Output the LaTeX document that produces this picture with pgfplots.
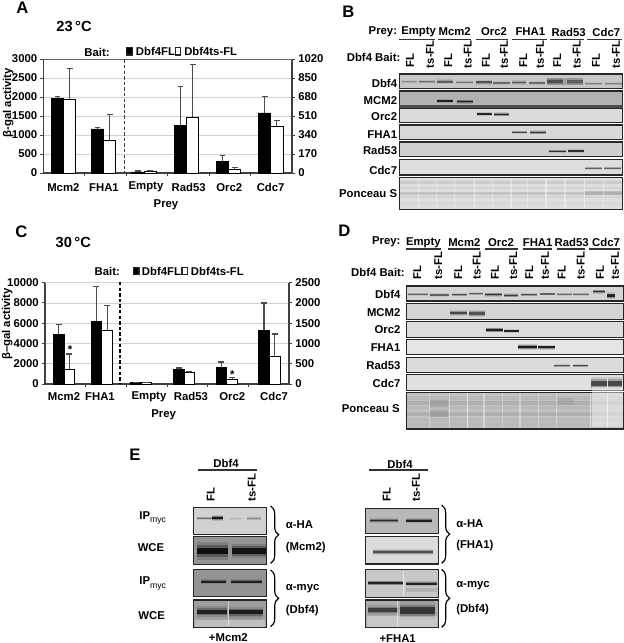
\documentclass[border=0pt]{standalone}
\usepackage{fontspec}
\setmainfont{Liberation Sans}
\usepackage{pgfplots}
\pgfplotsset{compat=1.18}
\usetikzlibrary{decorations.pathreplacing}

\newcommand\lbl{\fontsize{8.5pt}{10pt}\selectfont\bfseries}
\newcommand\plbl{\fontsize{12.5pt}{14pt}\selectfont\bfseries}
\newcommand\temp{\fontsize{11pt}{13pt}\selectfont\bfseries}
\newcommand\myc{\raisebox{-2.5pt}{\fontsize{6.5pt}{7pt}\selectfont\mdseries myc}}

% panel, band and lane helpers, all in the coordinates of the axis they sit in
\newcommand\panel[5]{\addplot[no markers, draw=black!85, line width=.9pt, fill=black!#5] coordinates {(#1,#2)(#3,#2)(#3,#4)(#1,#4)} --cycle;}
\newcommand\band[5]{%
  \addplot[no markers, black!#5, opacity=.14, line width=2.8*#4pt] coordinates {(#1,#3)(#2,#3)};
  \addplot[no markers, black!#5, opacity=.3, line width=1.8*#4pt] coordinates {(#1,#3)(#2,#3)};
  \addplot[no markers, black!#5, opacity=.9, line width=#4pt] coordinates {(#1,#3)(#2,#3)};}
\newcommand\smear[5]{\addplot[no markers, black!#5, opacity=.45, line width=#4pt] coordinates {(#1,#3)(#2,#3)};}
\newcommand\lane[4]{\addplot[no markers, white, opacity=#4, line width=1pt] coordinates {(#1,#2)(#1,#3)};}
\newcommand\uline[3]{\addplot[no markers, black!80, line width=.8pt] coordinates {(#1,#3)(#2,#3)};}
\newcommand\vlab[3]{\node[rotate=90, anchor=west] at (axis cs:#1,#2) {#3};}

\pgfplotsset{
  blot/.style={hide axis, scale only axis, clip=false, y dir=reverse, enlargelimits=false,
    anchor=south west, xmin=0, ymin=0},
  bars/.style={scale only axis, anchor=south west, ybar=0pt, clip=false,
    tick align=outside, major tick length=2.5pt,
    axis line style={line width=.8pt, black!75}, tick style={line width=.7pt, black!75},
    tick label style={font=\lbl, inner sep=2pt, /pgf/number format/assume math mode=true,
      /pgf/number format/1000 sep={}}},
  bk/.style={fill=black, draw=black, line width=.5pt,
    error bars/.cd, y dir=plus, y explicit,
    error bar style={line width=.8pt, black!70}, error mark options={rotate=90, mark size=2.2pt, line width=.8pt, black!70}},
  wh/.style={fill=white, draw=black, line width=.7pt,
    error bars/.cd, y dir=plus, y explicit,
    error bar style={line width=.8pt, black!70}, error mark options={rotate=90, mark size=2.2pt, line width=.8pt, black!70}},
}

\begin{document}
\begin{tikzpicture}[every node/.style={font=\lbl, inner sep=0pt}]
\path[use as bounding box] (0,0) rectangle (468pt,482.25pt);

% ---- A, bars
\begin{axis}[bars, at={(32.6pt,352.5pt)}, width=186.4pt, height=85.5pt, bar width=9.2pt,
    xmin=43.5, xmax=292, ymin=0, ymax=3000, axis y line*=left, axis x line*=bottom,
    ytick={0,500,1000,1500,2000,2500,3000}, xtick={84.9,126.3,167.7,209.1,250.5}, xticklabels={},
    ymajorgrids, grid style={black!18, line width=.6pt}]
\addplot[bk] table[x=x,y=y,y error=e] {
x y e
63.7 1962 61
103.7 1161 44
};
\addplot[wh] table[x=x,y=y,y error=e] {
x y e
63.7 1944 801
103.7 845 703
};
\end{axis}
\begin{axis}[bars, at={(32.6pt,352.5pt)}, width=186.4pt, height=85.5pt, bar width=9.2pt,
    xmin=43.5, xmax=292, ymin=0, ymax=1020, axis y line*=right, axis x line=none,
    ytick={0,170,340,510,680,850,1020}]
\addplot[bk] table[x=x,y=y,y error=e] {
x y e
144 9 9
186.7 428 347
228.7 102 57
270.7 538 147
};
\addplot[wh] table[x=x,y=y,y error=e] {
x y e
144 18 3
186.7 497 475
228.7 33 18
270.7 419 54
};
\end{axis}

% ---- C, bars
\begin{axis}[bars, at={(33.75pt,194.25pt)}, width=183pt, height=76pt, bar width=8pt,
    xmin=45, xmax=289, ymin=0, ymax=10000, axis y line*=left, axis x line*=bottom,
    ytick={0,2000,4000,6000,8000,10000}, scaled y ticks=false,
    xtick={85.7,126.3,167,207.7,248.3}, xticklabels={},
    ymajorgrids, grid style={black!18, line width=.6pt}]
\addplot[bk] table[x=x,y=y,y error=e] {
x y e
64 4870 985
101.7 6180 3420
};
\addplot[wh] table[x=x,y=y,y error=e] {
x y e
64 1480 1480
101.7 5330 2430
};
\end{axis}
\begin{axis}[bars, at={(33.75pt,194.25pt)}, width=183pt, height=76pt, bar width=8pt,
    xmin=45, xmax=289, ymin=0, ymax=2500, axis y line*=right, axis x line=none,
    ytick={0,500,1000,1500,2000,2500}]
\addplot[bk] table[x=x,y=y,y error=e] {
x y e
141 40 5
184 354 41
226.7 403 140
269.3 1332 666
};
\addplot[wh] table[x=x,y=y,y error=e] {
x y e
141 32 5
184 280 24
226.7 123 42
269.3 691 542
};
\end{axis}

% ---- A, text
\begin{axis}[blot, at={(0pt,317.25pt)}, width=232.5pt, height=165pt, xmax=930, ymax=660]
\addplot[no markers, black!60, line width=.9pt] coordinates {(130,178)(875,178)};
\addplot[no markers, black!75, line width=1.1pt, dash pattern=on 2.6pt off 1.6pt] coordinates {(374,178)(374,519)};
\panel{380}{143}{397}{165}{100}
\panel{526}{143}{542}{165}{0}
\node[font=\plbl] at (axis cs:67,22) {A};
\node[font=\temp] at (axis cs:222,78) {23\,°C};
\node at (axis cs:291,157) {Bait:};
\node[anchor=west] at (axis cs:407,154) {Dbf4FL};
\node[anchor=west] at (axis cs:552,154) {Dbf4ts-FL};
\node[rotate=90] at (axis cs:25,308) {β-gal activity};
\node at (axis cs:190,562) {Mcm2};
\node at (axis cs:312,562) {FHA1};
\node at (axis cs:438,559) {Empty};
\node at (axis cs:566,562) {Rad53};
\node at (axis cs:688,562) {Orc2};
\node at (axis cs:812,562) {Cdc7};
\node at (axis cs:498,614) {Prey};
\end{axis}

% ---- C, text
\begin{axis}[blot, at={(0pt,167.25pt)}, width=232.5pt, height=150pt, xmax=930, ymax=600]
\addplot[no markers, black, line width=.9pt, dash pattern=on 2.6pt off 1.6pt] coordinates {(360,186)(360,490)};
\panel{400}{143}{417}{163}{100}
\panel{546}{143}{563}{163}{0}
\node[font=\plbl] at (axis cs:64,36) {C};
\node[font=\temp] at (axis cs:220,66) {30\,°C};
\node at (axis cs:322,153) {Bait:};
\node[anchor=west] at (axis cs:425,153) {Dbf4FL};
\node[anchor=west] at (axis cs:572,153) {Dbf4ts-FL};
\node[rotate=90] at (axis cs:22,312) {β–gal activity};
\node at (axis cs:192,530) {Mcm2};
\node at (axis cs:300,530) {FHA1};
\node at (axis cs:447,530) {Empty};
\node at (axis cs:573,530) {Rad53};
\node at (axis cs:697,530) {Orc2};
\node at (axis cs:822,530) {Cdc7};
\node at (axis cs:491,584) {Prey};
\node at (axis cs:210,388) {*};
\node at (axis cs:697,464) {*};
\end{axis}

% ---- B
\begin{axis}[blot, at={(240pt,317.25pt)}, width=228pt, height=165pt, xmax=912, ymax=660]
\node[font=\plbl] at (axis cs:85,36) {B};
\node[anchor=east] at (axis cs:232,96) {Prey:};
\node at (axis cs:296,96) {Empty};
\node at (axis cs:404,96) {Mcm2};
\node at (axis cs:522,96) {Orc2};
\node at (axis cs:631,96) {FHA1};
\node at (axis cs:746,96) {Rad53};
\node at (axis cs:859,96) {Cdc7};
\uline{238}{345}{118}\uline{355}{452}{118}\uline{468}{565}{118}\uline{575}{680}{118}\uline{690}{792}{118}\uline{802}{905}{118}
\node[anchor=east] at (axis cs:242,172) {Dbf4 Bait:};
\vlab{270}{203}{FL}\vlab{385}{203}{FL}\vlab{498}{203}{FL}\vlab{610}{203}{FL}\vlab{712}{203}{FL}\vlab{828}{203}{FL}
\vlab{330}{205}{ts-FL}\vlab{443}{205}{ts-FL}\vlab{552}{205}{ts-FL}\vlab{660}{205}{ts-FL}\vlab{770}{205}{ts-FL}\vlab{888}{205}{ts-FL}
\node[anchor=east] at (axis cs:232,250) {Dbf4};
\node[anchor=east] at (axis cs:232,303) {MCM2};
\node[anchor=east] at (axis cs:232,350) {Orc2};
\node[anchor=east] at (axis cs:232,405) {FHA1};
\node[anchor=east] at (axis cs:232,452) {Rad53};
\node[anchor=east] at (axis cs:232,510) {Cdc7};
\node[anchor=east] at (axis cs:232,580) {Ponceau S};
\panel{238}{222}{908}{265}{22}
\panel{238}{273}{908}{318}{30}
\addplot[no markers, black!70, line width=2pt] coordinates {(238,320)(908,320)};
\panel{238}{325}{908}{368}{14}
\panel{238}{375}{908}{418}{15}
\panel{238}{426}{908}{470}{19}
\panel{238}{478}{908}{525}{13}
\panel{238}{532}{908}{628}{13}
\smear{682}{790}{245}{5}{55}
\band{245}{290}{245}{.7}{45}\band{298}{345}{245}{.9}{60}\band{352}{400}{245}{1.3}{65}\band{408}{458}{247}{.9}{55}
\band{468}{515}{247}{1.5}{70}\band{520}{570}{249}{1}{60}\band{575}{618}{247}{1.2}{65}\band{628}{675}{249}{1}{60}
\band{682}{730}{245}{2}{70}\band{740}{790}{245}{1.8}{65}\band{795}{845}{251}{.8}{50}\band{855}{905}{251}{.8}{50}
\band{352}{400}{303}{1.1}{90}\band{410}{458}{305}{1.1}{90}
\band{470}{517}{342}{1.2}{90}\band{522}{568}{343}{1.1}{90}
\band{575}{620}{397}{.9}{75}\band{630}{677}{397}{1}{80}
\band{688}{737}{454}{.9}{85}\band{745}{792}{453}{.9}{85}
\band{795}{845}{505}{.7}{65}\band{853}{903}{505}{.7}{65}
\smear{240}{906}{548}{2}{28}\smear{240}{906}{565}{1.5}{22}\smear{240}{906}{580}{2.5}{35}\smear{240}{906}{592}{1.5}{22}\smear{240}{906}{610}{2}{18}
\smear{795}{906}{578}{3}{40}
\lane{295}{535}{625}{.35}\lane{350}{535}{625}{.35}\lane{403}{535}{625}{.35}\lane{463}{535}{625}{.45}\lane{518}{535}{625}{.35}\lane{573}{535}{625}{.35}\lane{622}{535}{625}{.35}\lane{678}{535}{625}{.45}\lane{735}{535}{625}{.35}\lane{793}{535}{625}{.45}\lane{850}{535}{625}{.35}
\end{axis}

% ---- D
\begin{axis}[blot, at={(240pt,167.25pt)}, width=228pt, height=150pt, xmax=912, ymax=600]
\node[font=\plbl] at (axis cs:73,33) {D};
\node[anchor=east] at (axis cs:242,66) {Prey:};
\node at (axis cs:310,68) {Empty};
\node at (axis cs:433,68) {Mcm2};
\node at (axis cs:543,68) {Orc2};
\node at (axis cs:653,68) {FHA1};
\node at (axis cs:755,68) {Rad53};
\node at (axis cs:858,68) {Cdc7};
\uline{258}{362}{87}\uline{385}{480}{87}\uline{495}{593}{87}\uline{608}{695}{87}\uline{710}{795}{87}\uline{808}{900}{87}
\node[anchor=east] at (axis cs:255,157) {Dbf4 Bait:};
\vlab{292}{180}{FL}\vlab{415}{180}{FL}\vlab{525}{180}{FL}\vlab{628}{180}{FL}\vlab{725}{180}{FL}\vlab{840}{180}{FL}
\vlab{355}{180}{ts-FL}\vlab{470}{180}{ts-FL}\vlab{580}{180}{ts-FL}\vlab{675}{180}{ts-FL}\vlab{782}{180}{ts-FL}\vlab{885}{180}{ts-FL}
\node[anchor=east] at (axis cs:242,222) {Dbf4};
\node[anchor=east] at (axis cs:242,277) {MCM2};
\node[anchor=east] at (axis cs:242,330) {Orc2};
\node[anchor=east] at (axis cs:242,382) {FHA1};
\node[anchor=east] at (axis cs:242,437) {Rad53};
\node[anchor=east] at (axis cs:242,491) {Cdc7};
\node[anchor=east] at (axis cs:240,567) {Ponceau S};
\panel{260}{198}{910}{243}{17}
\panel{260}{250}{910}{298}{17}
\panel{260}{304}{910}{352}{13}
\panel{260}{358}{910}{404}{10}
\panel{260}{412}{910}{458}{14}
\panel{260}{463}{910}{512}{12}
\panel{260}{518}{910}{627}{24}
\band{265}{325}{223}{.7}{65}\band{330}{388}{225}{.9}{65}\band{395}{440}{224}{.9}{75}\band{447}{490}{221}{.9}{65}
\band{495}{545}{224}{1.1}{85}\band{552}{595}{226}{1}{80}\band{602}{650}{224}{.9}{75}\band{660}{705}{222}{.8}{65}
\band{712}{755}{223}{.7}{60}\band{760}{808}{223}{.7}{60}\band{818}{855}{215}{1.1}{85}\band{862}{885}{227}{1.8}{90}
\band{390}{440}{279}{1.4}{75}\band{447}{495}{281}{2}{70}
\band{497}{548}{330}{1.3}{92}\band{552}{597}{333}{1.2}{90}
\band{595}{650}{381}{1.5}{95}\band{655}{705}{382}{1.5}{92}
\band{703}{750}{437}{.8}{70}\band{758}{805}{437}{.8}{75}
\band{813}{860}{491}{3.5}{75}\band{865}{905}{491}{3.5}{75}
\smear{262}{908}{535}{3}{32}\smear{262}{908}{548}{3}{40}\smear{262}{908}{562}{2.5}{30}\smear{262}{908}{582}{3}{40}\smear{262}{908}{600}{2.5}{30}\smear{262}{908}{615}{2.5}{30}
\smear{330}{385}{550}{5}{45}\smear{330}{385}{580}{5}{45}\smear{715}{760}{545}{5}{40}
\smear{815}{908}{560}{30}{0}
\lane{328}{520}{625}{.3}\lane{388}{520}{625}{.4}\lane{442}{520}{625}{.6}\lane{492}{520}{625}{.4}\lane{548}{520}{625}{.3}\lane{600}{520}{625}{.35}\lane{655}{520}{625}{.35}\lane{710}{520}{625}{.35}\lane{812}{520}{625}{.5}\lane{862}{520}{625}{.6}
\end{axis}

% ---- E
\begin{axis}[blot, at={(75pt,0pt)}, width=315pt, height=167.25pt, xmax=1260, ymax=669]
\node[font=\plbl] at (axis cs:105,103) {E};
\node at (axis cs:378,130) {Dbf4};
\node at (axis cs:900,133) {Dbf4};
\uline{295}{472}{150}\uline{808}{985}{150}
\vlab{332}{245}{FL}\vlab{455}{245}{ts-FL}\vlab{860}{245}{FL}\vlab{948}{245}{ts-FL}
\node at (axis cs:158,293) {IP\myc};
\node at (axis cs:153,384) {WCE};
\node at (axis cs:158,490) {IP\myc};
\node at (axis cs:155,586) {WCE};
\node at (axis cs:385,653) {+Mcm2};
\node at (axis cs:893,655) {+FHA1};
\node[anchor=west] at (axis cs:557,313) {α-HA};
\node[anchor=west] at (axis cs:557,382) {(Mcm2)};
\node[anchor=west] at (axis cs:557,505) {α-myc};
\node[anchor=west] at (axis cs:557,573) {(Dbf4)};
\node[anchor=west] at (axis cs:1068,310) {α-HA};
\node[anchor=west] at (axis cs:1068,378) {(FHA1)};
\node[anchor=west] at (axis cs:1068,498) {α-myc};
\node[anchor=west] at (axis cs:1068,568) {(Dbf4)};
\panel{280}{262}{500}{343}{18}
\panel{280}{350}{500}{433}{42}
\panel{280}{448}{500}{530}{42}
\panel{280}{540}{500}{622}{38}
\panel{797}{265}{1015}{340}{28}
\panel{797}{350}{1015}{432}{14}
\panel{797}{448}{1015}{532}{22}
\panel{797}{540}{1015}{622}{32}
\band{292}{340}{295}{.9}{60}\band{335}{370}{293}{1.6}{95}\band{390}{425}{296}{.8}{30}\band{440}{482}{295}{1}{45}
\band{290}{385}{393}{5}{97}\band{395}{497}{393}{3.8}{95}
\band{303}{378}{485}{1.4}{90}\band{392}{487}{485}{1.4}{90}
\band{290}{382}{575}{2.8}{90}\band{388}{490}{577}{3}{92}
\smear{285}{495}{610}{5}{10}
\band{810}{895}{302}{1.2}{88}\band{918}{995}{302}{1.5}{92}
\band{818}{1000}{396}{1.7}{72}
\band{805}{908}{489}{1.3}{90}\band{918}{1010}{491}{1.5}{90}
\smear{918}{1010}{510}{2.5}{40}
\band{805}{895}{570}{2.8}{78}\band{900}{1005}{572}{5}{82}
\smear{800}{1012}{605}{8}{8}
\lane{910}{452}{528}{.6}\lane{893}{544}{618}{.5}\lane{385}{544}{618}{.5}
\draw[decorate, decoration={brace, amplitude=6pt}, line width=.9pt] (axis cs:512,258) -- (axis cs:512,430);
\draw[decorate, decoration={brace, amplitude=6pt}, line width=.9pt] (axis cs:512,450) -- (axis cs:512,620);
\draw[decorate, decoration={brace, amplitude=6pt}, line width=.9pt] (axis cs:1025,255) -- (axis cs:1025,430);
\draw[decorate, decoration={brace, amplitude=6pt}, line width=.9pt] (axis cs:1025,448) -- (axis cs:1025,622);
\end{axis}
\end{tikzpicture}
\end{document}
